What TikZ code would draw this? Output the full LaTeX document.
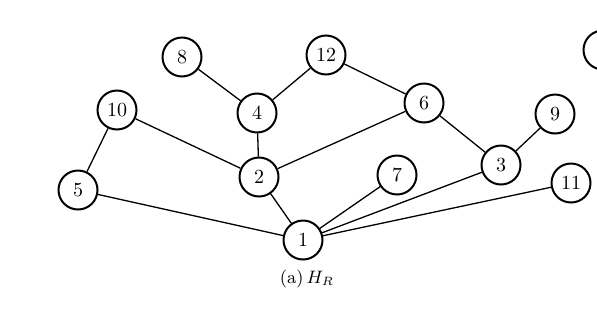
\documentclass[tikz,border=0pt]{standalone}
\usepackage{tikz}
\usetikzlibrary{positioning}

\begin{document}
\begin{tikzpicture}[
    x=0.5pt, y=-0.5pt,
    vertex/.style={draw, circle, line width=1pt, minimum size=19.5pt,
                   inner sep=0pt, font=\normalsize},
    edge/.style={line width=0.65pt}
]
    \useasboundingbox (0,0) rectangle (597,311);
    % vertices
    \node[vertex] (v8)  at (182,57)  {8};
    \node[vertex] (v12) at (326,55)  {12};
    \node[vertex] (v4)  at (257,113) {4};
    \node[vertex] (v10) at (117,110) {10};
    \node[vertex] (v6)  at (424,103) {6};
    \node[vertex] (v9)  at (555,114) {9};
    \node[vertex] (v2)  at (259,177) {2};
    \node[vertex] (v7)  at (397,175) {7};
    \node[vertex] (v3)  at (501,165) {3};
    \node[vertex] (v11) at (571,183) {11};
    \node[vertex] (v5)  at (78,190)  {5};
    \node[vertex] (v1)  at (303,240) {1};
    \node[vertex] (cut) at (603,50)  {};
    % edges
    \draw[edge] (v8) -- (v4);
    \draw[edge] (v12) -- (v4);
    \draw[edge] (v12) -- (v6);
    \draw[edge] (v4) -- (v2);
    \draw[edge] (v10) -- (v2);
    \draw[edge] (v10) -- (v5);
    \draw[edge] (v6) -- (v2);
    \draw[edge] (v6) -- (v3);
    \draw[edge] (v9) -- (v3);
    \draw[edge] (v2) -- (v1);
    \draw[edge] (v5) -- (v1);
    \draw[edge] (v7) -- (v1);
    \draw[edge] (v3) -- (v1);
    \draw[edge] (v11) -- (v1);
    % caption
    \node[font=\small, below=1pt of v1, xshift=2pt] (cap) {(a)\,$H_R$};
\end{tikzpicture}
\end{document}
